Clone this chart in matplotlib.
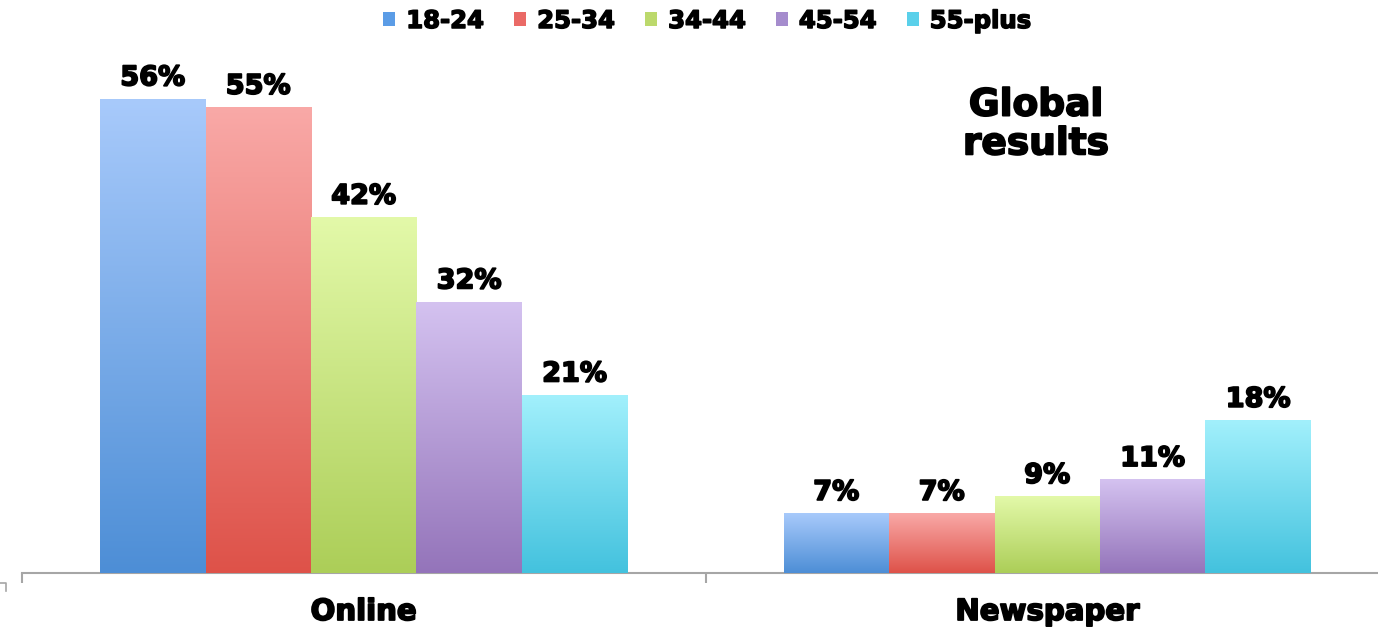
import numpy as np
import matplotlib
matplotlib.use("Agg")
import matplotlib.pyplot as plt
from matplotlib.colors import LinearSegmentedColormap
from matplotlib.patches import Patch
from matplotlib.lines import Line2D
import matplotlib.patheffects as pe

categories = ["Online", "Newspaper"]
series = ["18-24", "25-34", "34-44", "45-54", "55-plus"]
values = {
    "18-24": [56, 7],
    "25-34": [55, 7],
    "34-44": [42, 9],
    "45-54": [32, 11],
    "55-plus": [21, 18],
}
top_colors = ["#a8cafb", "#f9a9a7", "#e3f9a9", "#d4c2f0", "#a2f0fc"]
bottom_colors = ["#4d8ed6", "#de5249", "#acce58", "#9474ba", "#43c2de"]
legend_colors = ["#5b9ce6", "#ea6a66", "#bcd96c", "#a58ccd", "#5ad0ea"]

W, H = 1378, 641
fig = plt.figure(figsize=(W / 100, H / 100), dpi=100)
ax = fig.add_axes([22 / W, 68 / H, 1367 / W, 573 / H])

heavy = [pe.withStroke(linewidth=1.3, foreground="black")]
bar_w = 0.1543
x = np.arange(len(categories))
bold = dict(family="DejaVu Sans", weight="bold", color="black")

for i, s in enumerate(series):
    offs = (i - 2) * bar_w
    bars = ax.bar(x + offs, values[s], width=bar_w, color=bottom_colors[i],
                  edgecolor="none", zorder=2)
    cmap = LinearSegmentedColormap.from_list(s, [bottom_colors[i], top_colors[i]])
    grad = np.linspace(0, 1, 256).reshape(-1, 1)
    for rect, v in zip(bars, values[s]):
        x0 = rect.get_x()
        ax.imshow(grad, cmap=cmap, origin="lower", aspect="auto",
                  extent=[x0, x0 + rect.get_width(), 0, rect.get_height()],
                  zorder=3, interpolation="bicubic")
        ax.annotate(f"{v}%", (x0 + rect.get_width() / 2, rect.get_height()),
                    xytext=(0, 10), textcoords="offset points",
                    ha="center", va="baseline", fontsize=19.5,
                    path_effects=heavy, **bold)

ax.set_xlim(-0.5, 1.5)
ax.set_ylim(0, 67.73)
for sp in ["left", "top", "right"]:
    ax.spines[sp].set_visible(False)
ax.spines["bottom"].set_color("#a6a6a6")
ax.spines["bottom"].set_linewidth(1.5)
ax.set_yticks([])
ax.set_xticks(x)
ax.set_xticklabels(categories, fontsize=21, fontweight="bold", family="DejaVu Sans")
for t in ax.get_xticklabels():
    t.set_path_effects(heavy)
ax.tick_params(axis="x", which="major", length=0, pad=18)
ax.set_xticks([-0.5, 0.5, 1.5], minor=True)
ax.tick_params(axis="x", which="minor", length=7, width=1.5, color="#a6a6a6")

handles = [Patch(facecolor=c, edgecolor="none") for c in legend_colors]
leg = fig.legend(handles, series, loc="center", bbox_to_anchor=(707 / W, 1 - 21 / H),
                 ncol=5, frameon=False, handlelength=0.5, handleheight=0.5,
                 handletextpad=0.45, columnspacing=1.25,
                 prop=dict(family="DejaVu Sans", weight="bold", size=17.5))
for t in leg.get_texts():
    t.set_path_effects([pe.withStroke(linewidth=1.1, foreground="black")])

fig.text(1036 / W, 1 - 125 / H, "Global\nresults", ha="center", va="center",
         fontsize=27, linespacing=1.1, path_effects=heavy, **bold)

# small stray corner mark at bottom left
fig.add_artist(Line2D([0, 6 / W, 6 / W], [1 - 583 / H, 1 - 583 / H, 1 - 591 / H],
                      transform=fig.transFigure, color="#a6a6a6", lw=1.2))

fig.savefig("out.png", dpi=100, facecolor="white")
